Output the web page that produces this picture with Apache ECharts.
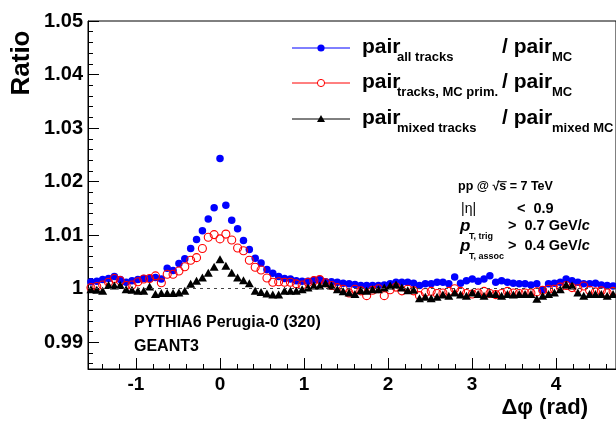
<!DOCTYPE html>
<html>
<head>
<meta charset="utf-8">
<script src="https://cdn.jsdelivr.net/npm/echarts@6/dist/echarts.min.js"></script>
<style>
html,body{margin:0;padding:0;background:#fff;}
#c{width:616px;height:424px;}
</style>
</head>
<body>
<div id="c"></div>
<script>
// ---- data (90 bins in delta phi, from -pi/2 to 3pi/2) ----
const nBins = 90;
const phiMin = -Math.PI / 2;
const phiMax = 3 * Math.PI / 2;

const allTracks = [
  1.0013, 1.0014, 1.0017, 1.0019, 1.0023, 1.0017, 1.0012, 1.0015, 1.0017, 1.0019,
  1.0019, 1.0021, 1.0018, 1.0038, 1.0034, 1.0047, 1.0056, 1.0075, 1.0092, 1.0108,
  1.0130, 1.0151, 1.0243, 1.0156, 1.0128, 1.0112, 1.0090, 1.0073, 1.0057, 1.0048,
  1.0036, 1.0029, 1.0023, 1.0019, 1.0018, 1.0015, 1.0014, 1.0014, 1.0016, 1.0017,
  1.0013, 1.0013, 1.0012, 1.0010, 1.0009, 1.0008, 1.0006, 1.0006, 1.0006, 1.0006,
  1.0007, 1.0009, 1.0012, 1.0012, 1.0012, 1.0010, 1.0006, 1.0009, 1.0009, 1.0012,
  1.0012, 1.0009, 1.0022, 1.0010, 1.0015, 1.0018, 1.0014, 1.0018, 1.0024, 1.0012,
  1.0015, 1.0012, 1.0010, 1.0009, 1.0009, 1.0007, 1.0009, 0.9998, 1.0009, 1.0010,
  1.0012, 1.0018, 1.0015, 1.0012, 1.0009, 1.0009, 1.0010, 1.0007, 1.0006, 1.0005
];
const tracksMCPrim = [
  1.0002, 1.0004, 1.0007, 1.0012, 1.0019, 1.0015, 1.0006, 1.0007, 1.0013, 1.0018,
  1.0019, 1.0024, 1.0011, 1.0027, 1.0027, 1.0033, 1.0041, 1.0053, 1.0058, 1.0075,
  1.0096, 1.0101, 1.0093, 1.0102, 1.0091, 1.0076, 1.0071, 1.0053, 1.0040, 1.0035,
  1.0020, 1.0012, 1.0013, 1.0012, 1.0012, 1.0009, 1.0007, 1.0012, 1.0015, 1.0017,
  1.0011, 1.0006, 1.0002, 0.9999, 0.9992, 0.9999, 0.9996, 0.9987, 0.9997, 1.0000,
  0.9987, 0.9998, 1.0003, 0.9996, 0.9999, 0.9996, 0.9987, 0.9993, 0.9995, 0.9991,
  0.9992, 0.9995, 1.0000, 0.9995, 0.9991, 0.9990, 0.9992, 0.9995, 0.9991, 0.9989,
  0.9991, 0.9995, 0.9992, 0.9991, 0.9992, 0.9992, 0.9994, 0.9997, 0.9999, 0.9999,
  1.0003, 1.0006, 1.0002, 1.0000, 1.0005, 0.9997, 0.9994, 0.9996, 0.9992, 0.9995
];
const mixedTracks = [
  0.9999, 0.9998, 0.9996, 1.0007, 1.0006, 1.0007, 0.9999, 0.9998, 0.9996, 0.9996,
  1.0004, 0.9990, 0.9992, 0.9992, 0.9992, 0.9993, 0.9996, 1.0009, 1.0015, 1.0021,
  1.0030, 1.0041, 1.0055, 1.0043, 1.0030, 1.0021, 1.0016, 1.0010, 0.9996, 0.9994,
  0.9991, 0.9989, 0.9989, 0.9996, 0.9996, 0.9996, 0.9999, 1.0002, 1.0006, 1.0006,
  1.0010, 1.0006, 0.9999, 0.9995, 0.9993, 0.9990, 0.9997, 0.9996, 0.9999, 0.9999,
  1.0002, 1.0006, 1.0008, 1.0002, 0.9997, 0.9998, 0.9982, 0.9985, 0.9982, 0.9985,
  0.9989, 0.9987, 0.9993, 0.9989, 0.9987, 0.9993, 0.9990, 0.9987, 0.9991, 0.9990,
  0.9987, 0.9990, 0.9989, 0.9990, 0.9990, 0.9990, 0.9981, 0.9987, 0.9990, 0.9993,
  0.9999, 1.0008, 1.0006, 0.9993, 0.9987, 0.9990, 0.9990, 0.9990, 0.9987, 0.9990
];
const seriesNames = ['all tracks', 'tracks, MC prim.', 'mixed tracks'];

// bin centres of the histogram
const binWidth = (phiMax - phiMin) / nBins;
const binCenters = allTracks.map((_, i) => phiMin + (i + 0.5) * binWidth);
const pairs = arr => arr.map((v, i) => [binCenters[i], v]);

const FONT = "'Liberation Sans', Arial, Helvetica, sans-serif";

function txt(x, y, text, size, opts) {
  opts = opts || {};
  const st = {
    text: text, fontFamily: FONT, fontSize: size,
    fontWeight: opts.weight || 'bold', fontStyle: opts.style || 'normal',
    fill: '#000', align: opts.align || 'left', verticalAlign: opts.va || 'middle',
    textAlign: opts.align || 'left', textVerticalAlign: opts.va || 'middle'
  };
  if (opts.rich) st.rich = opts.rich;
  return {type: 'text', x: x, y: y, silent: true, z: 100, style: st};
}

const legendRows = [
  {y: 48, color: '#0000ff', sym: 'fill', sub: 'all tracks', sub2: 'MC'},
  {y: 83, color: '#ff0000', sym: 'open', sub: 'tracks, MC prim.', sub2: 'MC'},
  {y: 119, color: '#000000', sym: 'tri', sub: 'mixed tracks', sub2: 'mixed MC'}
];
const graphics = [];
legendRows.forEach(r => {
  graphics.push({type: 'line', silent: true, z: 100, shape: {x1: 292, y1: r.y, x2: 350, y2: r.y},
    style: {stroke: r.color, lineWidth: 1}});
  if (r.sym === 'fill') {
    graphics.push({type: 'circle', silent: true, z: 101, shape: {cx: 321, cy: r.y, r: 3.6}, style: {fill: r.color}});
  } else if (r.sym === 'open') {
    graphics.push({type: 'circle', silent: true, z: 101, shape: {cx: 321, cy: r.y, r: 3.6}, style: {fill: '#fff', stroke: r.color, lineWidth: 1}});
  } else {
    graphics.push({type: 'polygon', silent: true, z: 101, shape: {points: [[321, r.y - 4], [325, r.y + 3], [317, r.y + 3]]}, style: {fill: r.color}});
  }
  graphics.push(txt(362, r.y - 1, 'pair', 21));
  graphics.push(txt(397, r.y + 9, r.sub, 13));
  graphics.push(txt(502, r.y - 1, '/ pair', 21));
  graphics.push(txt(552, r.y + 9, r.sub2, 13));
});

// annotation block
const measureCtx = document.createElement('canvas').getContext('2d');
function textWidth(t, size, weight) {
  measureCtx.font = (weight || 'bold') + ' ' + size + 'px ' + FONT;
  return measureCtx.measureText(t).width;
}
const annX = 458, annSize = 12.5, annY = 187;
graphics.push(txt(annX, annY, 'pp @ \u221As = 7 TeV', annSize));
const sStart = annX + textWidth('pp @ \u221A', annSize);
const sqrtStart = annX + textWidth('pp @ ', annSize);
const sEnd = annX + textWidth('pp @ \u221As', annSize);
graphics.push({type: 'line', silent: true, z: 100,
  shape: {x1: (sqrtStart + sStart) / 2 + 1.5, y1: annY - 5.3, x2: sEnd + 0.5, y2: annY - 5.3},
  style: {stroke: '#000', lineWidth: 1}});
const richAnn = {
  n: {fontFamily: FONT, fontSize: 14.5, fontWeight: 'bold', fill: '#000'},
  i: {fontFamily: FONT, fontSize: 14.5, fontWeight: 'bold', fontStyle: 'italic', fill: '#000'}
};
graphics.push(txt(461, 209, '|\u03B7|', 14, {weight: 'normal'}));
graphics.push(txt(517, 209, '<  0.9', 14.5));
graphics.push(txt(460, 226, 'p', 17, {style: 'italic'}));
graphics.push(txt(469, 237, 'T, trig', 9));
graphics.push(txt(508, 226, '{n|>  0.7 GeV/}{i|c}', 14.5, {rich: richAnn}));
graphics.push(txt(460, 246, 'p', 17, {style: 'italic'}));
graphics.push(txt(469, 257, 'T, assoc', 9));
graphics.push(txt(508, 246, '{n|>  0.4 GeV/}{i|c}', 14.5, {rich: richAnn}));
graphics.push(txt(134, 323, 'PYTHIA6 Perugia-0 (320)', 16));
graphics.push(txt(134, 347, 'GEANT3', 16));
// axis titles
graphics.push({type: 'text', silent: true, z: 100, x: 22, y: 63, rotation: Math.PI / 2,
  style: {text: 'Ratio', fontFamily: FONT, fontSize: 26, fontWeight: 'bold', fill: '#000',
    align: 'center', verticalAlign: 'middle', textAlign: 'center', textVerticalAlign: 'middle'}});
graphics.push(txt(588, 408, '\u0394\u03C6 (rad)', 22, {align: 'right'}));

const chart = echarts.init(document.getElementById('c'), null, {renderer: 'canvas'});
const axisLabelStyle = {fontFamily: FONT, fontWeight: 'bold', fontSize: 19, color: '#000'};

chart.setOption({
  animation: false,
  backgroundColor: '#fff',
  grid: {left: 88, top: 21, right: -7, bottom: 55, show: true, borderColor: '#000', borderWidth: 1, backgroundColor: 'transparent'},
  xAxis: {
    type: 'value', min: phiMin, max: phiMax, splitNumber: 7,
    axisLine: {show: true, onZero: false, lineStyle: {color: '#000', width: 1}},
    axisTick: {show: true, inside: true, length: 11, lineStyle: {color: '#000'}},
    minorTick: {show: true, splitNumber: 5, length: 5, lineStyle: {color: '#000'}},
    splitLine: {show: false},
    axisLabel: Object.assign({margin: 6, showMinLabel: false, showMaxLabel: false,
      formatter: v => String(Math.round(v))}, axisLabelStyle)
  },
  yAxis: {
    type: 'value', min: 0.985, max: 1.05, splitNumber: 7,
    axisLine: {show: true, onZero: false, lineStyle: {color: '#000', width: 1}},
    axisTick: {show: true, inside: true, length: 11, lineStyle: {color: '#000'}},
    minorTick: {show: true, splitNumber: 5, length: 5, lineStyle: {color: '#000'}},
    splitLine: {show: false},
    axisLabel: Object.assign({margin: 5, showMinLabel: false, fontSize: 20,
      formatter: v => String(parseFloat(v.toFixed(4)))}, {fontFamily: FONT, fontWeight: 'bold', color: '#000'})
  },
  series: [
    {
      type: 'line', data: [], z: 1, silent: true,
      markLine: {silent: true, symbol: 'none', label: {show: false},
        lineStyle: {color: '#444', width: 1, type: [3, 4]}, data: [{yAxis: 1}]}
    },
    {
      name: seriesNames[0], type: 'scatter', data: pairs(allTracks), z: 2,
      symbol: 'circle', symbolSize: 7.5, itemStyle: {color: '#0000ff', opacity: 1}
    },
    {
      name: seriesNames[1], type: 'scatter', data: pairs(tracksMCPrim), z: 3,
      symbol: 'circle', symbolSize: 8,
      itemStyle: {color: 'rgba(0,0,0,0)', borderColor: '#ff0000', borderWidth: 1.1, opacity: 1}
    },
    {
      name: seriesNames[2], type: 'scatter', data: pairs(mixedTracks), z: 4,
      symbol: 'triangle', symbolSize: [9, 8], itemStyle: {color: '#000000', opacity: 1}
    }
  ],
  graphic: graphics
});
</script>
</body>
</html>
